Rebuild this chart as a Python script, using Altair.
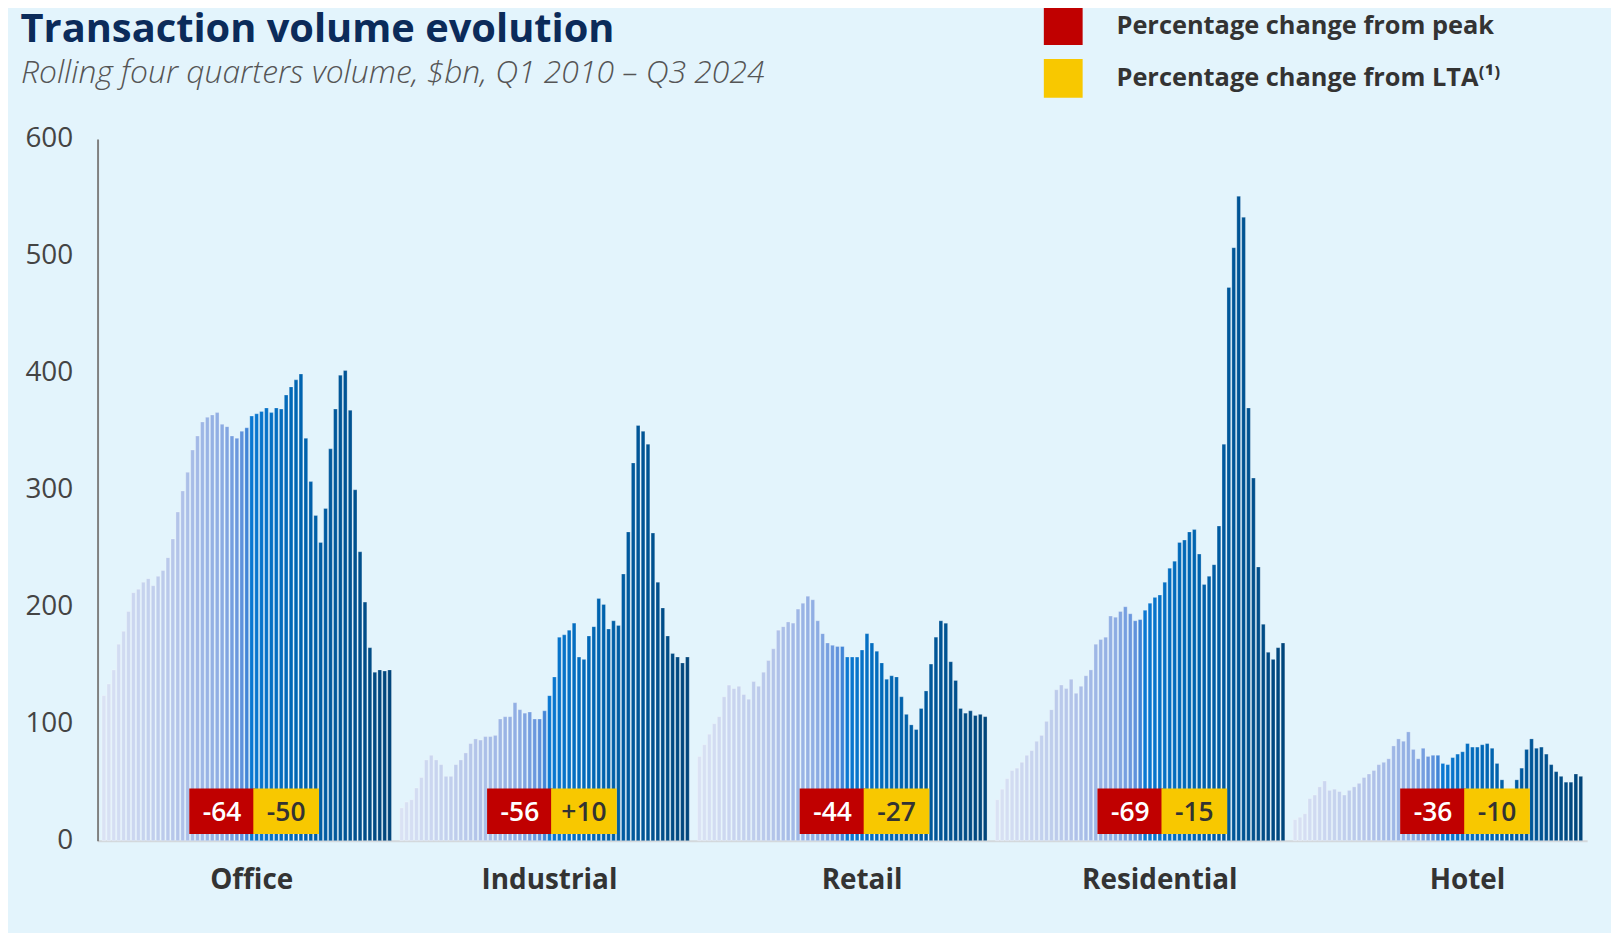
import altair as alt
import pandas as pd

# ---------------- data ----------------
sectors = ["Office", "Industrial", "Retail", "Residential", "Hotel"]
quarters = [f"Q{q} {y}" for y in range(2010, 2025) for q in range(1, 5)][:59]

office = [124, 134, 146, 168, 179, 196, 212, 215, 221, 224,
          218, 226, 231, 242, 258, 281, 299, 315, 334, 346,
          358, 362, 364, 366, 356, 354, 346, 344, 350, 353,
          363, 365, 367, 370, 366, 370, 369, 381, 388, 394,
          399, 344, 307, 278, 255, 284, 335, 369, 398, 402,
          368, 300, 247, 204, 165, 144, 146, 145, 146]
industrial = [28, 33, 35, 45, 54, 69, 73, 69, 65, 55,
              55, 65, 69, 75, 83, 87, 86, 89, 89, 90,
              104, 106, 106, 118, 112, 109, 110, 104, 104, 111,
              124, 140, 174, 176, 180, 186, 157, 155, 175, 183,
              207, 202, 181, 188, 184, 228, 264, 323, 355, 350,
              339, 263, 221, 199, 175, 160, 157, 152, 157]
retail = [72, 82, 91, 100, 106, 123, 133, 130, 132, 125,
          121, 136, 132, 144, 154, 164, 180, 183, 187, 186,
          198, 203, 209, 206, 188, 177, 169, 167, 166, 166,
          157, 157, 157, 163, 177, 169, 162, 152, 138, 141,
          140, 123, 108, 99, 95, 113, 128, 151, 174, 188,
          186, 153, 137, 113, 109, 111, 107, 108, 106]
residential = [35, 44, 53, 60, 62, 67, 73, 77, 85, 90,
               102, 112, 129, 133, 130, 138, 126, 132, 141, 146,
               168, 172, 174, 192, 191, 196, 200, 194, 188, 189,
               197, 203, 208, 210, 221, 233, 239, 255, 257, 264,
               266, 245, 219, 226, 236, 269, 339, 473, 507, 551,
               533, 370, 310, 234, 185, 161, 155, 165, 169]
hotel = [18, 20, 23, 36, 39, 46, 51, 43, 44, 42,
         39, 43, 46, 49, 54, 57, 60, 65, 67, 70,
         81, 87, 85, 93, 78, 70, 79, 72, 73, 73,
         66, 65, 71, 74, 76, 83, 80, 80, 82, 83,
         79, 66, 52, 36, 31, 52, 62, 78, 87, 79,
         80, 74, 65, 59, 55, 50, 50, 57, 55]
series = [office, industrial, retail, residential, hotel]

peak_change = ["-64", "-56", "-44", "-69", "-36"]
lta_change = ["-50", "+10", "-27", "-15", "-10"]
# quarter under which each badge / sector name sits
peak_badge_quarter = ["Q1 2016", "Q1 2016", "Q4 2016", "Q4 2016", "Q1 2017"]
lta_badge_quarter = ["Q2 2019", "Q2 2019", "Q1 2020", "Q1 2020", "Q2 2020"]
name_quarter = ["Q3 2017", "Q3 2017", "Q2 2018", "Q2 2018", "Q4 2018"]

kinds = ["Percentage change from peak", "Percentage change from LTA\u207d\u00b9\u207e"]
kind_colors = ["#c00000", "#f8c800"]

title_text = "Transaction volume evolution"
subtitle_text = "Rolling four quarters volume, $bn, Q1 2010 \u2013 Q3 2024"

# ---------------- tables ----------------
rows = []
for s, vals in zip(sectors, series):
    for i, (q, v) in enumerate(zip(quarters, vals)):
        rows.append({"sector": s, "quarter": q, "idx": i, "value": v})
bars_df = pd.DataFrame(rows)

badge_rows = []
for s, pc, lc, pq, lq in zip(sectors, peak_change, lta_change, peak_badge_quarter, lta_badge_quarter):
    badge_rows.append({"sector": s, "quarter": pq, "kind": kinds[0], "label": pc})
    badge_rows.append({"sector": s, "quarter": lq, "kind": kinds[1], "label": lc})
badge_df = pd.DataFrame(badge_rows)
names_df = pd.DataFrame({"sector": sectors, "quarter": name_quarter})

FONT = "Open Sans"

x_enc = alt.X("sector:N", sort=sectors,
              scale=alt.Scale(domain=sectors, paddingInner=0.024, paddingOuter=0.013),
              axis=alt.Axis(title=None, labels=False, ticks=False, grid=False,
                            domainColor="#d3d8dc", domainWidth=2))
xoff_enc = alt.XOffset("quarter:N", sort=quarters,
                       scale=alt.Scale(domain=quarters, paddingInner=0.25, paddingOuter=0.125))

bars = alt.Chart(bars_df).mark_bar(stroke="white", strokeWidth=0.8, strokeOpacity=0.3).encode(
    x=x_enc,
    xOffset=xoff_enc,
    y=alt.Y("value:Q", scale=alt.Scale(domain=[0, 600], nice=False),
            axis=alt.Axis(title=None, values=[0, 100, 200, 300, 400, 500, 600], grid=False,
                          ticks=False, domainColor="#808080", domainWidth=2,
                          labelFontSize=28, labelColor="#444444", labelFont=FONT,
                          labelPadding=25)),
    color=alt.Color("idx:Q", legend=None,
                    scale=alt.Scale(domain=[0, 14, 24, 28, 30, 40, 58],
                                    range=["#dae2f4", "#b7c7ea", "#8cacE3", "#5f92dc",
                                           "#0a78d2", "#0064b0", "#00457b"])),
)

badges = alt.Chart(badge_df).mark_bar(width=66).encode(
    x=alt.X("sector:N", sort=sectors),
    xOffset=alt.XOffset("quarter:N", sort=quarters),
    y=alt.value(652.7),
    y2=alt.value(698.4),
    color=alt.Color("kind:N", scale=alt.Scale(domain=kinds, range=kind_colors),
                    legend=alt.Legend(title=None, orient="none", legendX=951, legendY=-133.3,
                                      symbolType="square", symbolSize=1521,
                                      symbolStrokeWidth=0, symbolOpacity=1,
                                      rowPadding=14, labelOffset=34, padding=0,
                                      labelFontSize=25.5, labelFont=FONT,
                                      labelFontWeight="bold", labelColor="#333333",
                                      labelLimit=600)),
)

badge_text = alt.Chart(badge_df).mark_text(
    fontSize=26.5, font=FONT, fontWeight=600, baseline="alphabetic", align="center"
).encode(
    x=alt.X("sector:N", sort=sectors),
    xOffset=alt.XOffset("quarter:N", sort=quarters),
    y=alt.value(685.5),
    text="label:N",
    color=alt.Color("kind:N", scale=alt.Scale(domain=kinds, range=["#ffffff", "#333333"]),
                    legend=None),
)

names = alt.Chart(names_df).mark_text(
    fontSize=28, font=FONT, fontWeight="bold", color="#333333",
    baseline="alphabetic", align="center"
).encode(
    x=alt.X("sector:N", sort=sectors),
    xOffset=alt.XOffset("quarter:N", sort=quarters),
    y=alt.value(754),
    text="sector:N",
)

title = alt.Chart(pd.DataFrame({"t": [title_text]})).mark_text(
    fontSize=40, font=FONT, fontWeight="bold", color="#0b2b5a",
    align="left", baseline="alphabetic"
).encode(x=alt.value(-77.4), y=alt.value(-97), text="t:N")

subtitle = alt.Chart(pd.DataFrame({"t": [subtitle_text]})).mark_text(
    fontSize=32, font=FONT, fontWeight=300, fontStyle="italic", color="#555555",
    align="left", baseline="alphabetic"
).encode(x=alt.value(-77), y=alt.value(-56), text="t:N")

chart = alt.layer(bars, badges, badge_text, names, title, subtitle).resolve_scale(
    color="independent"
).properties(
    width=1497, height=705.2,
    autosize=alt.AutoSizeParams(type="none"),
    padding={"left": 90, "top": 129.3, "right": 24, "bottom": 90},
    background="#e3f4fc",
).configure_view(stroke=None)

chart.save("out.html", embed_options={"renderer": "svg", "actions": False})
